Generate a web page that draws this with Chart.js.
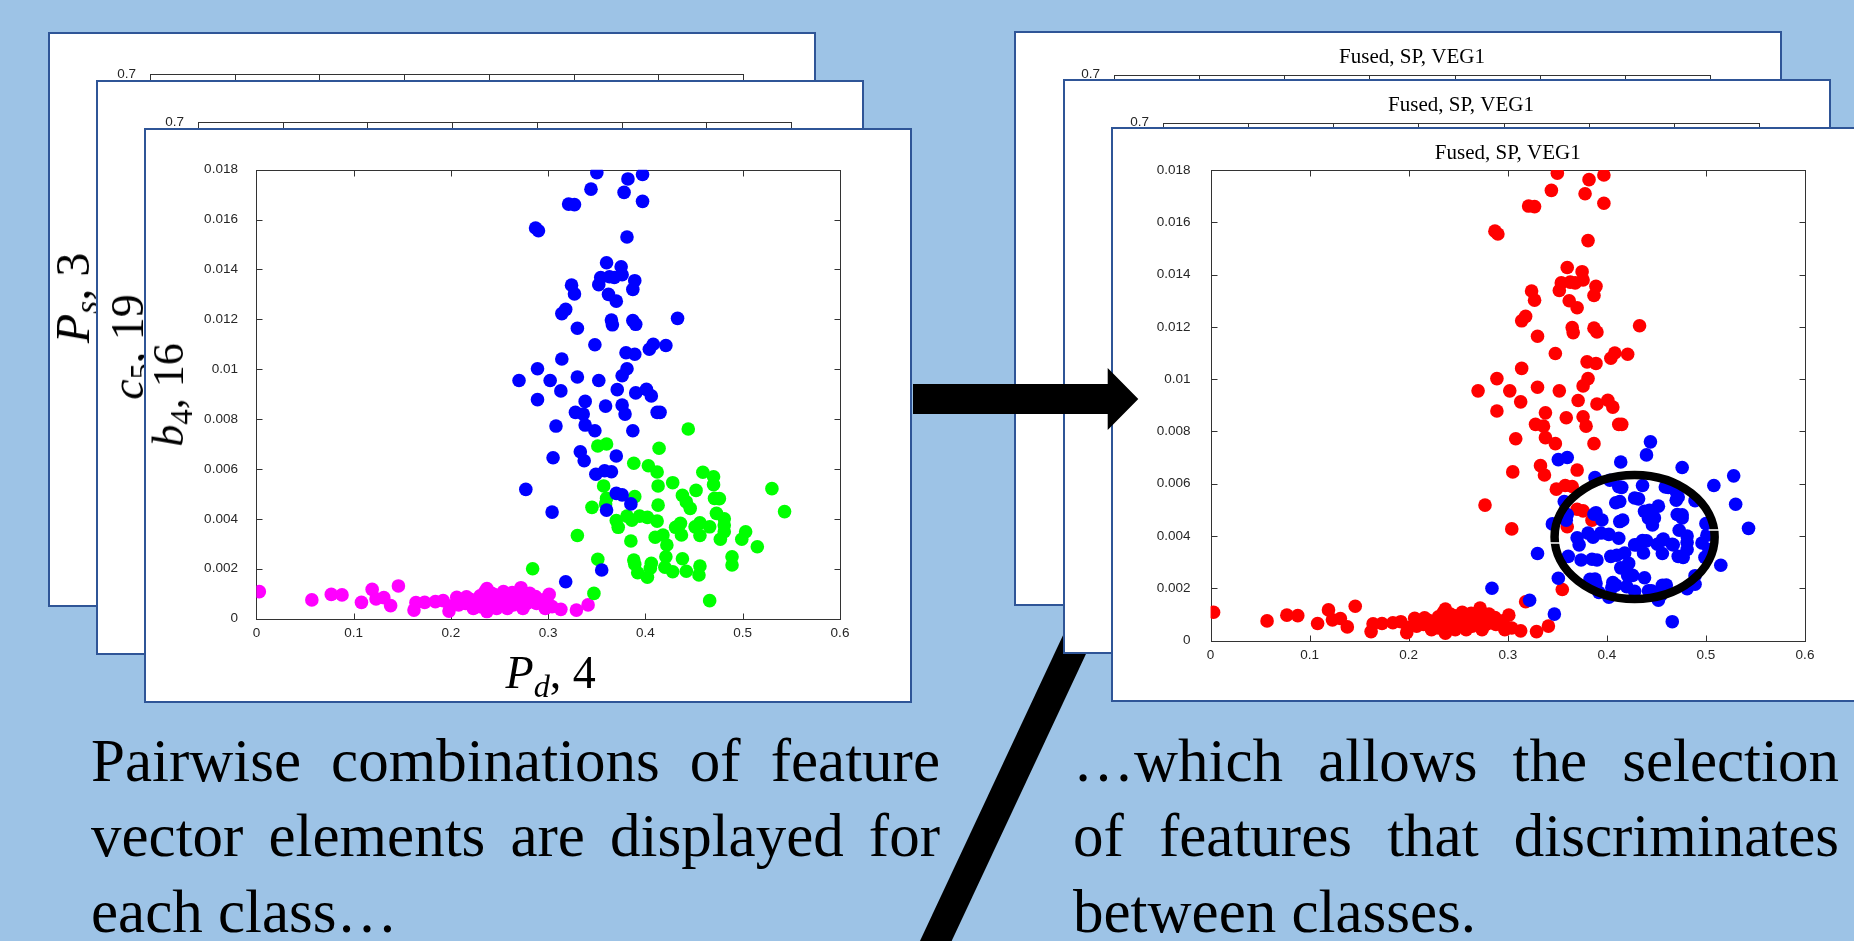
<!DOCTYPE html>
<html>
<head>
<meta charset="utf-8">
<script src="https://cdn.jsdelivr.net/npm/chart.js@4.4.1/dist/chart.umd.min.js"></script>
<style>
html,body{margin:0;padding:0;width:1854px;height:941px;overflow:hidden;background:#9DC3E6;}
.panel{position:absolute;box-sizing:border-box;width:768px;height:575px;background:#fff;border:2px solid #2F5597;}
.panel canvas{position:absolute;left:0;top:0;}
.lay{position:absolute;left:0;top:0;width:1854px;height:941px;pointer-events:none;}
.math{position:absolute;font-family:'Liberation Serif','Times New Roman',serif;color:#000;white-space:nowrap;line-height:1;}
.math i{font-style:italic;}
.math sub{font-size:70%;line-height:0;vertical-align:-0.28em;}
.rot{transform:translate(-50%,-50%) rotate(-90deg);transform-origin:center;}
.txt{position:absolute;font-family:'Liberation Serif','Times New Roman',serif;font-size:61px;line-height:61px;color:#000;}
.just{text-align:justify;text-align-last:justify;}
</style>
</head>
<body>
<svg class="lay"><polygon points="918.1,945 949.8,945 1127.6,565 1095.9,565" fill="#000"/></svg>

<div class="panel" style="left:48px;top:32px;"><canvas id="cL1" width="764" height="571"></canvas></div>
<div class="math rot" style="left:72.8px;top:298.4px;font-size:48px;"><i>P</i><sub><i>s</i></sub>, 3</div>
<div class="panel" style="left:96px;top:80px;"><canvas id="cL2" width="764" height="571"></canvas></div>
<div class="math rot" style="left:127.5px;top:346.6px;font-size:46px;"><i>c</i><sub>5</sub>, 19</div>
<div class="panel" style="left:144px;top:128px;"><canvas id="cL3" width="764" height="571"></canvas></div>
<div class="math rot" style="left:168.7px;top:394.6px;font-size:44px;"><i>b</i><sub>4</sub>, 16</div>
<div class="math" style="left:505.6px;top:649.5px;font-size:46px;"><i>P</i><sub><i>d</i></sub>, 4</div>

<div class="panel" style="left:1014px;top:31px;"><canvas id="cR1" width="764" height="571"></canvas></div>
<div class="panel" style="left:1063px;top:79px;"><canvas id="cR2" width="764" height="571"></canvas></div>
<div class="panel" style="left:1111px;top:127px;"><canvas id="cR3" width="764" height="571"></canvas></div>

<svg class="lay"><polygon points="913,384 1107.7,384 1107.7,368 1138.3,399 1107.7,430 1107.7,414 913,414" fill="#000"/></svg>

<div class="txt just" style="left:91px;top:730px;width:849px;">Pairwise combinations of feature</div>
<div class="txt just" style="left:91px;top:805.4px;width:849px;">vector elements are displayed for</div>
<div class="txt" style="left:91px;top:881px;width:849px;">each class…</div>
<div class="txt just" style="left:1073px;top:730px;width:766px;">…which allows the selection</div>
<div class="txt just" style="left:1073px;top:805.4px;width:766px;">of features that discriminates</div>
<div class="txt" style="left:1073px;top:881px;width:766px;">between classes.</div>

<script>
// ---------- data ----------
const xTicks = [0, 0.1, 0.2, 0.3, 0.4, 0.5, 0.6];
const xTickLabels = ['0', '0.1', '0.2', '0.3', '0.4', '0.5', '0.6'];
const yTicks = [0, 0.002, 0.004, 0.006, 0.008, 0.01, 0.012, 0.014, 0.016, 0.018];
const yTickLabels = ['0', '0.002', '0.004', '0.006', '0.008', '0.01', '0.012', '0.014', '0.016', '0.018'];
const backTicks = [0, 0.1, 0.2, 0.3, 0.4, 0.5, 0.6, 0.7];
const backTickLabels = ['0', '0.1', '0.2', '0.3', '0.4', '0.5', '0.6', '0.7'];
const fusedTitle = 'Fused, SP, VEG1';

// class 1 (magenta, left) : [Pd, b4]
const magentaPts = [
 [0.003,0.00108],[0.057,0.00075],[0.077,0.00097],[0.088,0.00095],[0.108,0.00065],[0.119,0.00117],
 [0.123,0.00079],[0.131,0.00084],[0.138,0.00052],[0.146,0.00131],[0.162,0.00034],[0.164,0.00064],
 [0.173,0.00065],[0.184,0.00068],[0.192,0.00072],[0.198,0.00030],[0.206,0.00085],[0.208,0.00055],
 [0.215,0.00061],[0.220,0.00077],[0.227,0.00064],[0.230,0.00091],[0.235,0.00108],[0.237,0.00028],
 [0.238,0.00077],[0.240,0.00048],[0.245,0.00095],[0.249,0.00061],[0.254,0.00108],[0.256,0.00077],
 [0.258,0.00041],[0.263,0.00104],[0.266,0.00068],[0.272,0.00124],[0.273,0.00081],[0.278,0.00061],
 [0.287,0.00088],[0.288,0.00061],[0.297,0.00041],[0.301,0.00097],[0.304,0.00048],[0.313,0.00037],
 [0.329,0.00034],[0.341,0.00055],[0.216,0.00087],[0.233,0.00064],[0.242,0.00101],[0.247,0.00041],
 [0.251,0.00085],[0.264,0.00055],[0.269,0.00088],[0.281,0.00101],[0.283,0.00075],[0.223,0.00041],
 [0.199,0.00050],[0.244,0.00068],[0.259,0.00091],[0.230,0.00048],[0.235,0.00061],[0.274,0.00041],
 [0.252,0.00055],[0.237,0.00120],[0.295,0.00075],[0.213,0.00077]
];
// class 2 (blue, left)
const bluePts = [
 [0.350,0.01788],[0.382,0.01763],[0.397,0.01781],[0.344,0.01722],[0.378,0.01709],[0.397,0.01673],
 [0.321,0.01662],[0.327,0.01660],[0.287,0.01566],[0.290,0.01555],[0.381,0.01530],[0.360,0.01427],
 [0.375,0.01411],[0.354,0.01368],[0.363,0.01371],[0.368,0.01368],[0.376,0.01379],[0.389,0.01355],
 [0.352,0.01339],[0.387,0.01320],[0.324,0.01337],[0.327,0.01302],[0.362,0.01300],[0.370,0.01273],
 [0.318,0.01240],[0.314,0.01223],[0.433,0.01204],[0.365,0.01197],[0.366,0.01178],[0.387,0.01195],
 [0.390,0.01180],[0.330,0.01164],[0.348,0.01098],[0.408,0.01100],[0.404,0.01080],[0.421,0.01095],
 [0.380,0.01066],[0.389,0.01060],[0.314,0.01041],[0.381,0.01002],[0.376,0.00974],[0.289,0.01002],
 [0.270,0.00955],[0.302,0.00955],[0.330,0.00969],[0.352,0.00955],[0.313,0.00913],[0.371,0.00918],
 [0.390,0.00905],[0.401,0.00919],[0.406,0.00893],[0.289,0.00878],[0.338,0.00871],[0.359,0.00852],
 [0.376,0.00856],[0.328,0.00827],[0.336,0.00820],[0.379,0.00820],[0.412,0.00827],[0.415,0.00827],
 [0.308,0.00772],[0.338,0.00776],[0.348,0.00753],[0.387,0.00753],[0.305,0.00645],[0.333,0.00669],
 [0.337,0.00633],[0.370,0.00652],[0.349,0.00579],[0.358,0.00593],[0.365,0.00589],[0.277,0.00518],
 [0.370,0.00502],[0.376,0.00496],[0.385,0.00460],[0.304,0.00427],[0.360,0.00435],[0.355,0.00195],
 [0.318,0.00148]
];
// class 3 (green, left)
const greenPts = [
 [0.444,0.00760],[0.351,0.00692],[0.360,0.00700],[0.414,0.00683],[0.388,0.00623],[0.403,0.00613],
 [0.412,0.00588],[0.459,0.00587],[0.470,0.00569],[0.470,0.00537],[0.428,0.00545],[0.413,0.00532],
 [0.357,0.00532],[0.452,0.00514],[0.438,0.00494],[0.442,0.00468],[0.446,0.00442],[0.471,0.00482],
 [0.476,0.00481],[0.389,0.00489],[0.360,0.00482],[0.359,0.00460],[0.345,0.00446],[0.413,0.00455],
 [0.530,0.00521],[0.543,0.00429],[0.381,0.00411],[0.386,0.00395],[0.394,0.00411],[0.402,0.00406],
 [0.412,0.00391],[0.370,0.00393],[0.372,0.00366],[0.436,0.00382],[0.431,0.00366],[0.437,0.00335],
 [0.451,0.00368],[0.456,0.00384],[0.466,0.00368],[0.481,0.00400],[0.481,0.00375],[0.481,0.00348],
 [0.456,0.00333],[0.477,0.00318],[0.473,0.00422],[0.503,0.00348],[0.499,0.00318],[0.515,0.00288],
 [0.410,0.00326],[0.418,0.00335],[0.422,0.00295],[0.385,0.00311],[0.330,0.00333],[0.421,0.00248],
 [0.438,0.00240],[0.388,0.00235],[0.389,0.00218],[0.406,0.00222],[0.405,0.00202],[0.420,0.00206],
 [0.428,0.00188],[0.392,0.00184],[0.402,0.00166],[0.442,0.00190],[0.456,0.00211],[0.455,0.00175],
 [0.489,0.00248],[0.489,0.00215],[0.351,0.00238],[0.284,0.00200],[0.347,0.00101],[0.466,0.00072]
];
// extra blue samples visible only in the fused (right) plot
const fusedExtraBluePts = [
 [0.440,0.00710],[0.476,0.00662],[0.528,0.00630],[0.508,0.00593],[0.322,0.00154],[0.452,0.00154],
 [0.500,0.00447],[0.415,0.00586],[0.436,0.00593],[0.432,0.00542],[0.462,0.00586],[0.472,0.00549],
 [0.489,0.00535],[0.409,0.00527],[0.387,0.00483],[0.395,0.00461],[0.416,0.00461],[0.443,0.00498],
 [0.448,0.00469],[0.476,0.00469],[0.501,0.00403],[0.496,0.00373],[0.428,0.00366],[0.440,0.00381],
 [0.457,0.00388],[0.467,0.00366],[0.472,0.00322],[0.404,0.00322],[0.414,0.00278],[0.426,0.00249],
 [0.409,0.00212],[0.383,0.00234],[0.390,0.00308],[0.374,0.00308],[0.361,0.00322],[0.460,0.00212],
 [0.445,0.00190],[0.481,0.00198]
];
// selection ellipse annotation (data coordinates)
const selectionEllipse = {cx: 0.428, cy: 0.00396, rx: 0.0808, ry: 0.00237};

// ---------- helpers ----------
const toXY = arr => arr.map(p => ({x: p[0], y: p[1]}));
const tickFont = {family: "'Liberation Sans', Arial, sans-serif", size: 13.5};
const tickColor = '#262626';
const markerRadius = 6.8;

const matlabFrame = {
  id: 'matlabFrame',
  beforeDatasetsDraw(chart) {
    const {ctx, chartArea: a, scales: {x, y}} = chart;
    const len = 6;
    ctx.save();
    ctx.strokeStyle = '#333333';
    ctx.lineWidth = 1;
    const L = Math.round(a.left) + 0.5, R = Math.round(a.right) + 0.5;
    const T = Math.round(a.top) + 0.5, B = Math.round(a.bottom) + 0.5;
    ctx.strokeRect(L, T, R - L, B - T);
    ctx.beginPath();
    x.ticks.forEach(t => {
      const px = Math.round(x.getPixelForValue(t.value)) + 0.5;
      ctx.moveTo(px, B); ctx.lineTo(px, B - len);
      ctx.moveTo(px, T); ctx.lineTo(px, T + len);
    });
    y.ticks.forEach(t => {
      const py = Math.round(y.getPixelForValue(t.value)) + 0.5;
      ctx.moveTo(L, py); ctx.lineTo(L + len, py);
      ctx.moveTo(R, py); ctx.lineTo(R - len, py);
    });
    ctx.stroke();
    ctx.restore();
  }
};

const ellipsePlugin = {
  id: 'selEllipse',
  afterDatasetsDraw(chart) {
    const {ctx, scales: {x, y}} = chart;
    const E = selectionEllipse;
    const cx = x.getPixelForValue(E.cx), cy = y.getPixelForValue(E.cy);
    const rx = x.getPixelForValue(E.cx + E.rx) - cx;
    const ry = cy - y.getPixelForValue(E.cy + E.ry);
    ctx.save();
    ctx.lineWidth = 8.5;
    ctx.strokeStyle = '#000';
    ctx.beginPath();
    ctx.ellipse(cx, cy, rx, ry, 0, 0, Math.PI * 2);
    ctx.stroke();
    ctx.strokeStyle = '#fff';
    ctx.lineWidth = 1.5;
    [[1, -7], [-1, 6]].forEach(([side, dy]) => {
      const xr = cx + side * rx * Math.sqrt(1 - (dy / ry) * (dy / ry));
      ctx.beginPath();
      ctx.moveTo(xr - 5.5, cy + dy); ctx.lineTo(xr + 5.5, cy + dy);
      ctx.stroke();
    });
    ctx.restore();
  }
};

function makeChart(id, cfg) {
  const W = 764, H = 571;
  const axisX = {
    type: 'linear', position: 'bottom', min: cfg.xMin, max: cfg.xMax,
    afterBuildTicks: s => { s.ticks = cfg.xTicks.map(v => ({value: v})); },
    afterFit: s => { s.height = H - cfg.bottom; },
    grid: {display: false, drawTicks: false}, border: {display: false},
    ticks: {callback: (v, i) => cfg.xLabels[i], font: tickFont, color: tickColor,
            padding: 7, maxRotation: 0, autoSkip: false}
  };
  const axisY = {
    type: 'linear', position: 'left', min: cfg.yMin, max: cfg.yMax,
    afterBuildTicks: s => { s.ticks = cfg.yTicks.map(v => ({value: v})); },
    afterFit: s => { s.width = cfg.left; },
    grid: {display: false, drawTicks: false}, border: {display: false},
    ticks: {callback: (v, i) => cfg.yLabels[i], font: tickFont, color: tickColor,
            padding: cfg.yPad, autoSkip: false}
  };
  const plugins = {legend: {display: false}, tooltip: {enabled: false}};
  let padTop = cfg.top;
  if (cfg.title) {
    plugins.title = {display: true, text: cfg.title, fullSize: false, color: '#000',
      font: {family: "'Liberation Serif', 'Times New Roman', serif", size: 21, weight: 'normal', lineHeight: 1.2},
      padding: {top: 11.4, bottom: cfg.top - 11.4 - 25.2}};
    padTop = 0;
  }
  return new Chart(document.getElementById(id), {
    type: 'scatter',
    data: {datasets: cfg.datasets.map(d => ({
      data: d.data, backgroundColor: d.color, borderColor: d.color, borderWidth: 0,
      pointRadius: markerRadius, pointHoverRadius: markerRadius
    }))},
    options: {
      responsive: false, animation: false, events: [], devicePixelRatio: 1,
      layout: {padding: {left: 0, top: padTop, right: W - cfg.right, bottom: 0}},
      scales: {x: axisX, y: axisY},
      plugins
    },
    plugins: cfg.extra ? [matlabFrame, cfg.extra] : [matlabFrame]
  });
}

const backCfg = (top, left, right, title) => ({
  xMin: 0, xMax: 0.7, yMin: 0, yMax: 0.7,
  xTicks: backTicks, xLabels: backTickLabels, yTicks: backTicks, yLabels: backTickLabels,
  left, right, top, bottom: 488.5, yPad: 14, title, datasets: []
});

makeChart('cL1', backCfg(40, 100, 693, null));
makeChart('cL2', backCfg(40, 100, 693, null));
makeChart('cL3', {
  xMin: 0, xMax: 0.6, yMin: 0, yMax: 0.018,
  xTicks, xLabels: xTickLabels, yTicks, yLabels: yTickLabels,
  left: 110.4, right: 694, top: 39.7, bottom: 488.6, yPad: 18.5,
  datasets: [
    {data: toXY(bluePts), color: '#0000FF'},
    {data: toXY(greenPts), color: '#00FF00'},
    {data: toXY(magentaPts), color: '#FF00FF'}
  ]
});
makeChart('cR1', backCfg(41.5, 98, 694, fusedTitle));
makeChart('cR2', backCfg(41.5, 98, 694, fusedTitle));
makeChart('cR3', {
  xMin: 0, xMax: 0.6, yMin: 0, yMax: 0.018,
  xTicks, xLabels: xTickLabels, yTicks, yLabels: yTickLabels,
  left: 97.6, right: 692, top: 41, bottom: 511.5, yPad: 20, title: fusedTitle,
  datasets: [
    {data: toXY(greenPts.concat(fusedExtraBluePts)), color: '#0000FF'},
    {data: toXY(magentaPts.concat(bluePts)), color: '#FF0000'}
  ],
  extra: ellipsePlugin
});
</script>
</body>
</html>
